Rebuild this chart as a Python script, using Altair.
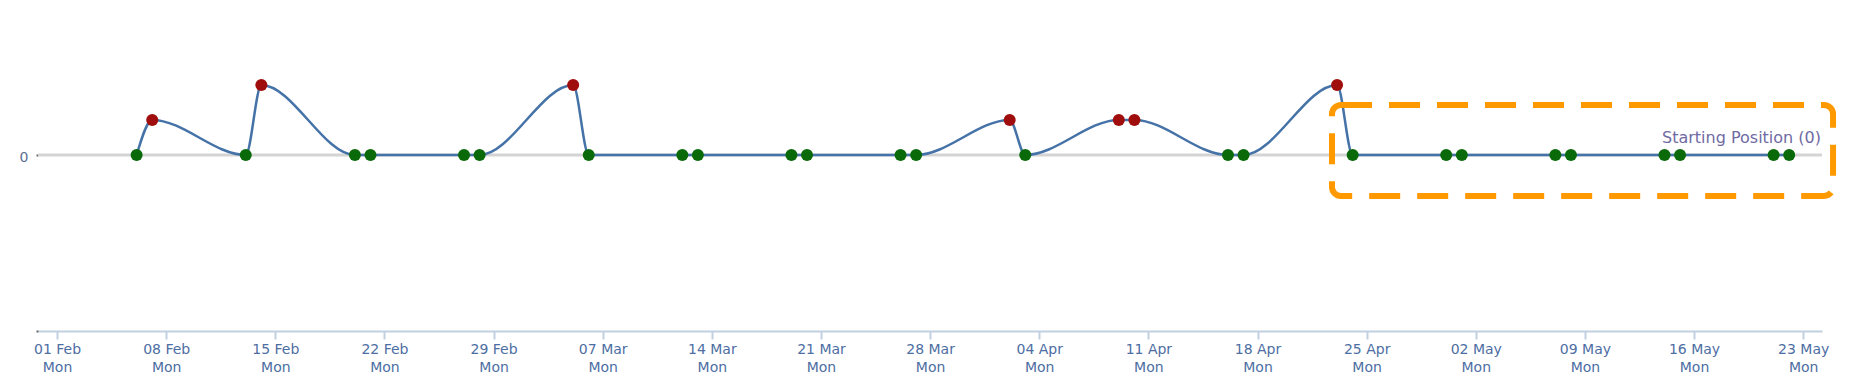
import altair as alt
import pandas as pd

# ---- data ----
dates = ["2016-02-06", "2016-02-07", "2016-02-13", "2016-02-14", "2016-02-20", "2016-02-21",
         "2016-02-27", "2016-02-28", "2016-03-05", "2016-03-06", "2016-03-12", "2016-03-13",
         "2016-03-19", "2016-03-20", "2016-03-26", "2016-03-27", "2016-04-02", "2016-04-03",
         "2016-04-09", "2016-04-10", "2016-04-16", "2016-04-17", "2016-04-23", "2016-04-24",
         "2016-04-30", "2016-05-01", "2016-05-07", "2016-05-08", "2016-05-14", "2016-05-15",
         "2016-05-21", "2016-05-22"]
values = [0, 1, 0, 2, 0, 0, 0, 0, 2, 0, 0, 0, 0, 0, 0, 0,
          1, 0, 1, 1, 0, 0, 2, 0, 0, 0, 0, 0, 0, 0, 0, 0]
point_time = "02:30"

tick_dates = ["2016-02-01", "2016-02-08", "2016-02-15", "2016-02-22", "2016-02-29", "2016-03-07",
              "2016-03-14", "2016-03-21", "2016-03-28", "2016-04-04", "2016-04-11", "2016-04-18",
              "2016-04-25", "2016-05-02", "2016-05-09", "2016-05-16", "2016-05-23"]
x_start = "2016-01-30 18:40"
x_end = "2016-05-24 05:00"
y_min, y_max = -5.03, 4.2

plotline_label = "Starting Position (0)"
plotline_value = 0

# highlighted region (annotation box)
box_x = ["2016-04-22 18:40"]
box_x2 = ["2016-05-24 22:00"]
box_y = [1.43]
box_y2 = [-1.17]


def dt(s):
    t = pd.Timestamp(s)
    return alt.DateTime(year=t.year, month=t.month, date=t.day, hours=t.hour, minutes=t.minute)


df = pd.DataFrame({
    "date": [f"{d}T{point_time}:00" for d in dates],
    "value": values,
})
df["status"] = ["moved" if v > 0 else "start" for v in values]

label_df = pd.DataFrame({"date": [pd.Timestamp(x_end).strftime("%Y-%m-%dT%H:%M:%S")],
                         "value": [plotline_value], "text": [plotline_label]})
box_df = pd.DataFrame({
    "date": [pd.Timestamp(s).strftime("%Y-%m-%dT%H:%M:%S") for s in box_x],
    "date2": [pd.Timestamp(s).strftime("%Y-%m-%dT%H:%M:%S") for s in box_x2],
    "y": box_y, "y2": box_y2,
})

FONT = "DejaVu Sans"
xscale = alt.Scale(domain=[dt(x_start), dt(x_end)], nice=False)
yscale = alt.Scale(domain=[y_min, y_max], nice=False, zero=False)

x_axis = alt.Axis(
    values=[dt(d) for d in tick_dates],
    labelExpr="[timeFormat(datum.value, '%d %b'), timeFormat(datum.value, '%a')]",
    title=None, grid=False,
    domainColor="#C0D0E0", domainWidth=2,
    tickColor="#C0D0E0", tickWidth=2, tickSize=8,
    labelColor="#4d6ea3", labelFont=FONT, labelFontSize=14, labelLineHeight=18,
    labelPadding=3, labelFlush=False, labelOverlap=False,
)
y_axis = alt.Axis(
    values=[y_min, 0],
    labelExpr="datum.value == 0 ? '0' : ''",
    title=None, grid=False, domain=False,
    tickColor="#666666", tickSize=2, tickWidth=2,
    labelColor="#5b6f92", labelFont=FONT, labelFontSize=14, labelPadding=8,
    labelOffset=3,
)

base = alt.Chart(df)

zero_rule = alt.Chart(label_df).mark_rule(color="#d4d4d4", strokeWidth=3).encode(
    y=alt.Y("value:Q", scale=yscale, axis=y_axis),
)

line = base.mark_line(color="#4572A7", strokeWidth=2.5, interpolate="monotone").encode(
    x=alt.X("date:T", scale=xscale, axis=x_axis),
    y=alt.Y("value:Q", scale=yscale, axis=y_axis),
)

points = base.mark_circle(size=145, opacity=1).encode(
    x=alt.X("date:T", scale=xscale),
    y=alt.Y("value:Q", scale=yscale),
    color=alt.Color("status:N", scale=alt.Scale(domain=["start", "moved"],
                                                 range=["#0a6a0a", "#a00d0d"]), legend=None),
)

label = alt.Chart(label_df).mark_text(
    align="right", baseline="middle", dx=-1, dy=-17,
    font=FONT, fontSize=16, color="#6f6aa3",
).encode(
    x=alt.X("date:T", scale=xscale),
    y=alt.Y("value:Q", scale=yscale),
    text="text:N",
)

box = alt.Chart(box_df).mark_rect(
    fillOpacity=0, stroke="#FF9900", strokeWidth=6, strokeDash=[31, 17],
    cornerRadius=9, clip=False,
).encode(
    x=alt.X("date:T", scale=xscale),
    x2="date2:T",
    y=alt.Y("y:Q", scale=yscale),
    y2="y2:Q",
)

chart = alt.layer(zero_rule, line, points, label, box).properties(
    width=1784, height=323,
    autosize=alt.AutoSizeParams(type="none"),
    padding={"left": 30, "top": 0, "right": 24, "bottom": 52},
).configure(background="white").configure_view(strokeWidth=0, stroke="transparent")

chart.save("out.html", embed_options={"renderer": "svg", "actions": False})
